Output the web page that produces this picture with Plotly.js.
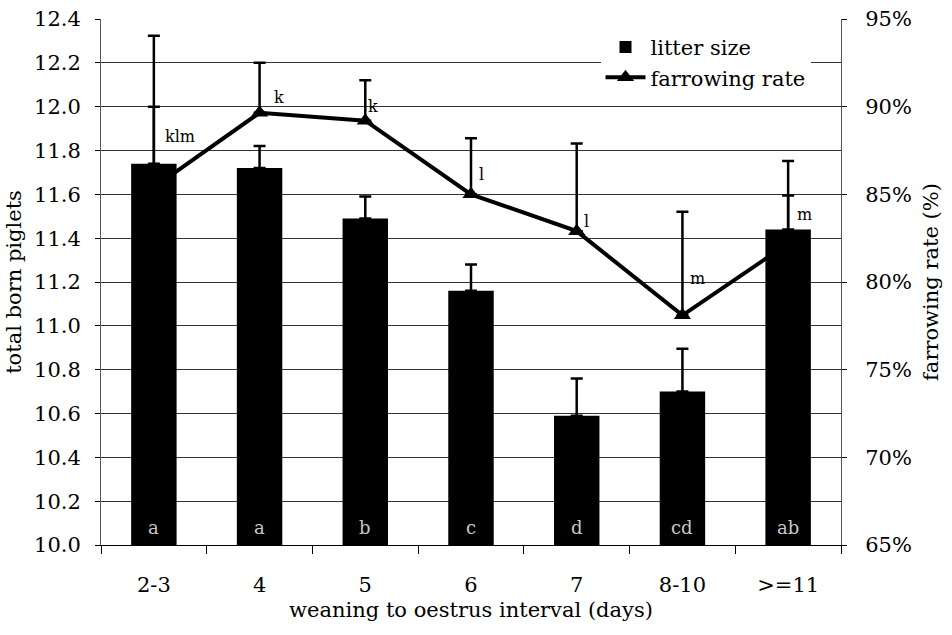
<!DOCTYPE html>
<html>
<head>
<meta charset="utf-8">
<script src="https://cdn.plot.ly/plotly-3.0.1.min.js"></script>
<style>html,body{margin:0;padding:0;background:#fff;}#chart{width:952px;height:635px;}</style>
</head>
<body>
<div id="chart"></div>
<script>
const categories = ['2-3', '4', '5', '6', '7', '8-10', '>=11'];
const litterSize = [11.74, 11.72, 11.49, 11.16, 10.59, 10.70, 11.44];
const litterErr = [0.26, 0.10, 0.10, 0.12, 0.17, 0.195, 0.155];
const farrowRate = [85.4, 89.65, 89.2, 85.0, 82.9, 78.1, 82.2];
const farrowErr = [8.65, 2.85, 2.3, 3.2, 5.0, 5.9, 4.7];
const litterLetters = ['a', 'a', 'b', 'c', 'd', 'cd', 'ab'];
const farrowLetters = ['klm', 'k', 'k', 'l', 'l', 'm', 'm'];
const leftTicks = [10.0, 10.2, 10.4, 10.6, 10.8, 11.0, 11.2, 11.4, 11.6, 11.8, 12.0, 12.2, 12.4];
const rightTicks = [65, 70, 75, 80, 85, 90, 95];

const FONT = 'DejaVu Serif, serif';

// label placement offsets (layout only)
const farrowShift = [[26, 51], [19, 15], [8, 14], [10, 20], [10, 10], [15, 37], [16, 29]];

const traceLine = {
  type: 'scatter',
  name: 'farrowing rate',
  x: categories,
  y: farrowRate,
  xaxis: 'x',
  yaxis: 'y',
  mode: 'lines+markers',
  line: {color: '#000', width: 4},
  marker: {symbol: 'triangle-up', size: 15, color: '#000'},
  error_y: {type: 'data', array: farrowErr, symmetric: false, arrayminus: farrowErr.map(() => 0), color: '#000', thickness: 2.5, width: 6},
  legendrank: 2,
  cliponaxis: false
};

const traceBar = {
  type: 'bar',
  name: 'litter size',
  x: categories,
  y: litterSize,
  xaxis: 'x',
  yaxis: 'y2',
  width: 0.43,
  marker: {color: '#000', line: {width: 0}},
  error_y: {type: 'data', array: litterErr, symmetric: false, arrayminus: litterErr.map(() => 0), color: '#000', thickness: 2.5, width: 6},
  legendrank: 1
};

const annotations = [];
categories.forEach((c, i) => {
  annotations.push({
    x: i, y: 10.0, xref: 'x', yref: 'y2',
    text: litterLetters[i], showarrow: false,
    yanchor: 'bottom', yshift: 5,
    font: {family: FONT, size: 18, color: '#c8c8c8'}
  });
  annotations.push({
    x: i, y: farrowRate[i], xref: 'x', yref: 'y',
    text: farrowLetters[i], showarrow: false,
    xshift: farrowShift[i][0], yshift: farrowShift[i][1],
    font: {family: FONT, size: 16, color: '#000'}
  });
});

const layout = {
  width: 952,
  height: 635,
  margin: {l: 101, r: 111, t: 19, b: 90, pad: 0},
  paper_bgcolor: '#fff',
  plot_bgcolor: '#fff',
  showlegend: true,
  legend: {
    x: 0.675, y: 0.985, xanchor: 'left', yanchor: 'top',
    bgcolor: '#fff', borderwidth: 0,
    font: {family: FONT, size: 21, color: '#000'},
    traceorder: 'normal', itemwidth: 40
  },
  xaxis: {
    type: 'category',
    showline: true, linecolor: '#000', linewidth: 1,
    ticks: 'outside', tickson: 'boundaries', ticklen: 8, tickcolor: '#000',
    showgrid: false,
    tickfont: {family: FONT, size: 21, color: '#000'},
    ticklabelstandoff: 21,
    title: {text: 'weaning to oestrus interval (days)', font: {family: FONT, size: 21, color: '#000'}, standoff: 6}
  },
  yaxis2: {
    side: 'left',
    overlaying: 'y',
    range: [10.0, 12.4],
    tickvals: leftTicks,
    ticktext: leftTicks.map(v => v.toFixed(1)),
    showline: true, linecolor: '#555', linewidth: 1,
    ticks: 'outside', ticklen: 5, tickcolor: '#000',
    showgrid: true, gridcolor: '#333', gridwidth: 1,
    zeroline: false,
    tickfont: {family: FONT, size: 21, color: '#000'},
    ticklabelstandoff: 10,
    title: {text: 'total born piglets', font: {family: FONT, size: 21, color: '#000'}, standoff: 6}
  },
  yaxis: {
    side: 'right',
    range: [65, 95],
    tickvals: rightTicks,
    ticktext: rightTicks.map(v => v + '%'),
    showline: true, linecolor: '#555', linewidth: 1,
    ticks: 'outside', ticklen: 5, tickcolor: '#000',
    showgrid: false, zeroline: false,
    tickfont: {family: FONT, size: 21, color: '#000'},
    ticklabelstandoff: 14,
    title: {text: 'farrowing rate (%)', font: {family: FONT, size: 21, color: '#000'}, standoff: 12}
  },
  annotations: annotations
};

Plotly.newPlot('chart', [traceLine, traceBar], layout, {staticPlot: true, displayModeBar: false});
</script>
</body>
</html>
